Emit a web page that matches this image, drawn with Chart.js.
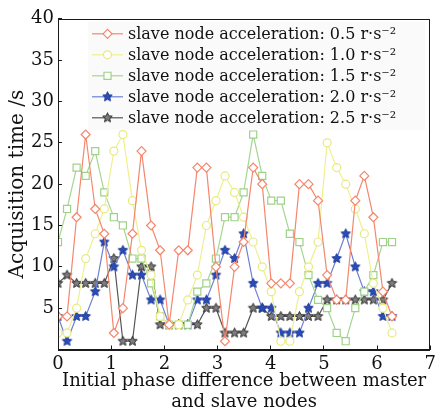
<!DOCTYPE html>
<html>
<head>
<meta charset="utf-8">
<script src="https://cdn.jsdelivr.net/npm/chart.js@4.4.0/dist/chart.umd.min.js"></script>
<style>
  html, body { margin: 0; padding: 0; background: #fff; }
  #wrap { width: 444px; height: 417px; }
</style>
</head>
<body>
<div id="wrap"><canvas id="chart" width="444" height="417"></canvas></div>
<script>
// Initial phase difference (rad), 0 .. 2π
const phase = [0, 0.17, 0.35, 0.52, 0.70, 0.87, 1.05, 1.22, 1.40, 1.57, 1.75, 1.92, 2.09,
  2.27, 2.44, 2.62, 2.79, 2.97, 3.14, 3.32, 3.49, 3.67, 3.84, 4.01, 4.19, 4.36, 4.54,
  4.71, 4.89, 5.06, 5.24, 5.41, 5.59, 5.76, 5.93, 6.11, 6.28];

// Acquisition time (s) per slave node acceleration
const acc05 = [4, 4, 16, 26, 17, 14, 2, 5, 14, 24, 15, 12, 3, 12, 12, 22, 22, 10, 1, 10, 13,
  22, 20, 8, 8, 8, 20, 20, 18, 9, 6, 6, 18, 21, 16, 7, 4];
const acc10 = [2, 2, 5, 11, 14, 17, 24, 26, 18, 12, 9, 4, 3, 3, 6, 9, 15, 18, 21, 19, 16,
  13, 10, 7, 1, 1, 7, 10, 13, 25, 22, 20, 17, 14, 8, 5, 2];
const acc15 = [13, 17, 22, 21, 24, 19, 16, 15, 11, 11, 8, 4, 3, 3, 3, 7, 8, 11, 16, 16, 19,
  26, 21, 18, 18, 14, 13, 9, 6, 5, 2, 1, 5, 7, 9, 13, 13];
const acc20 = [4, 1, 4, 4, 7, 13, 10, 12, 9, 9, 6, 6, 3, 3, 3, 6, 6, 9, 12, 11, 14,
  8, 5, 5, 2, 2, 2, 5, 8, 8, 11, 14, 10, 7, 7, 4, 4];
const acc25 = [8, 9, 8, 8, 8, 8, 11, 1, 1, 10, 10, 3, 3, 3, 3, 3, 5, 5, 2, 2, 2,
  5, 5, 4, 4, 4, 4, 4, 4, 6, 6, 6, 6, 6, 6, 6, 8];

const seriesLabels = [
  'slave node acceleration: 0.5 r\u00b7s\u207b\u00b2',
  'slave node acceleration: 1.0 r\u00b7s\u207b\u00b2',
  'slave node acceleration: 1.5 r\u00b7s\u207b\u00b2',
  'slave node acceleration: 2.0 r\u00b7s\u207b\u00b2',
  'slave node acceleration: 2.5 r\u00b7s\u207b\u00b2'
];
const xTitle = ['Initial phase difference between master', 'and slave nodes'];
const yTitle = 'Acquisition time /s';

const FONT = "'DejaVu Serif', serif";

// star-shaped marker drawn onto a small canvas
function starMarker(outer, inner, fill, stroke) {
  const size = Math.ceil(outer * 2 + 3);
  const c = document.createElement('canvas');
  c.width = c.height = size;
  const g = c.getContext('2d');
  g.beginPath();
  for (let k = 0; k < 10; k++) {
    const r = k % 2 ? inner : outer;
    const a = -Math.PI / 2 + k * Math.PI / 5;
    g.lineTo(size / 2 + r * Math.cos(a), size / 2 + r * Math.sin(a));
  }
  g.closePath();
  g.fillStyle = fill;
  g.fill();
  if (stroke) {
    g.strokeStyle = stroke;
    g.lineWidth = 1;
    g.stroke();
  }
  return c;
}

const blueStar = starMarker(5, 2.4, '#2b4cb6', '#1d3a9a');
const greyStar = starMarker(5, 2.3, '#7d7d7d', '#2a2a2a');

function toPoints(values) {
  return values.map((v, i) => ({ x: phase[i], y: v }));
}

function series(label, values, line, style) {
  return Object.assign({
    label,
    data: toPoints(values),
    borderColor: line,
    borderWidth: 1.2,
    tension: 0,
    fill: false
  }, style);
}

// frame round the plot + legend inside it
const framePlugin = {
  id: 'frame',
  afterDatasetsDraw(chart) {
    const { ctx, chartArea: a } = chart;
    ctx.save();
    ctx.strokeStyle = '#1a1a1a';
    ctx.lineWidth = 1;
    ctx.strokeRect(Math.round(a.left) + 0.5, Math.round(a.top) + 0.5,
      Math.round(a.right - a.left) - 1, Math.round(a.bottom - a.top));

    // legend
    ctx.fillStyle = 'rgba(250,250,250,0.95)';
    ctx.fillRect(a.left + 30, a.top + 3, a.right - a.left - 35, 108);
    ctx.font = '16px ' + FONT;
    ctx.textBaseline = 'middle';
    chart.data.datasets.forEach((ds, i) => {
      const y = a.top + 15 + i * 21;
      const x0 = a.left + 34;
      ctx.strokeStyle = ds.borderColor;
      ctx.lineWidth = ds.borderWidth;
      ctx.beginPath();
      ctx.moveTo(x0, y);
      ctx.lineTo(x0 + 31, y);
      ctx.stroke();
      ctx.fillStyle = ds.pointBackgroundColor;
      ctx.strokeStyle = ds.pointBorderColor;
      ctx.lineWidth = ds.pointBorderWidth;
      Chart.helpers.drawPoint(ctx, {
        pointStyle: ds.pointStyle, radius: ds.pointRadius,
        borderWidth: ds.pointBorderWidth, rotation: 0
      }, x0 + 15.5, y);
      ctx.fillStyle = '#111';
      ctx.fillText(ds.label, a.left + 70, y + 1);
    });
    ctx.restore();
  }
};

new Chart(document.getElementById('chart'), {
  type: 'line',
  data: {
    datasets: [
      series(seriesLabels[0], acc05, '#f4876d', {
        pointStyle: 'rectRot', pointRadius: 4.5, pointBorderWidth: 1.2,
        pointBorderColor: '#f4876d', pointBackgroundColor: '#ffffff'
      }),
      series(seriesLabels[1], acc10, '#eef08e', {
        pointStyle: 'circle', pointRadius: 4, pointBorderWidth: 1.2,
        pointBorderColor: '#e8ea80', pointBackgroundColor: '#ffffff'
      }),
      series(seriesLabels[2], acc15, '#a5d68f', {
        pointStyle: 'rect', pointRadius: 5, pointBorderWidth: 1.2,
        pointBorderColor: '#9dd288', pointBackgroundColor: '#ffffff'
      }),
      series(seriesLabels[3], acc20, '#6e80d4', {
        pointStyle: blueStar, pointRadius: 5, pointBorderWidth: 0,
        pointBorderColor: '#2b4cb6', pointBackgroundColor: '#2b4cb6'
      }),
      series(seriesLabels[4], acc25, '#555555', {
        pointStyle: greyStar, pointRadius: 5, pointBorderWidth: 0,
        pointBorderColor: '#2a2a2a', pointBackgroundColor: '#7d7d7d'
      })
    ]
  },
  options: {
    responsive: false,
    animation: false,
    layout: { padding: { left: 0, right: 5, top: 12, bottom: 0 } },
    plugins: {
      legend: { display: false },
      tooltip: { enabled: false }
    },
    scales: {
      x: {
        type: 'linear',
        min: 0,
        max: 7,
        ticks: {
          stepSize: 1,
          color: '#111',
          padding: 8,
          maxRotation: 0,
          font: { family: FONT, size: 18 }
        },
        grid: { drawOnChartArea: false, tickLength: -4, tickColor: '#1a1a1a' },
        border: { color: '#1a1a1a', width: 1 },
        title: {
          display: true,
          text: xTitle,
          color: '#111',
          font: { family: FONT, size: 18, lineHeight: 1.12 },
          padding: { top: 0, bottom: 5 }
        },
        afterFit: s => { s.height = 67.5; }
      },
      y: {
        min: 0,
        max: 40,
        ticks: {
          stepSize: 5,
          color: '#111',
          padding: 8,
          font: { family: FONT, size: 18 },
          callback: v => (v === 0 ? '' : v)
        },
        grid: { drawOnChartArea: false, tickLength: -4, tickColor: '#1a1a1a' },
        border: { color: '#1a1a1a', width: 1 },
        title: {
          display: true,
          text: yTitle,
          color: '#111',
          font: { family: FONT, size: 20, lineHeight: 1.2 },
          padding: { top: 6, bottom: 0 }
        },
        afterFit: s => { s.width = 58; }
      }
    }
  },
  plugins: [framePlugin]
});
</script>
</body>
</html>
